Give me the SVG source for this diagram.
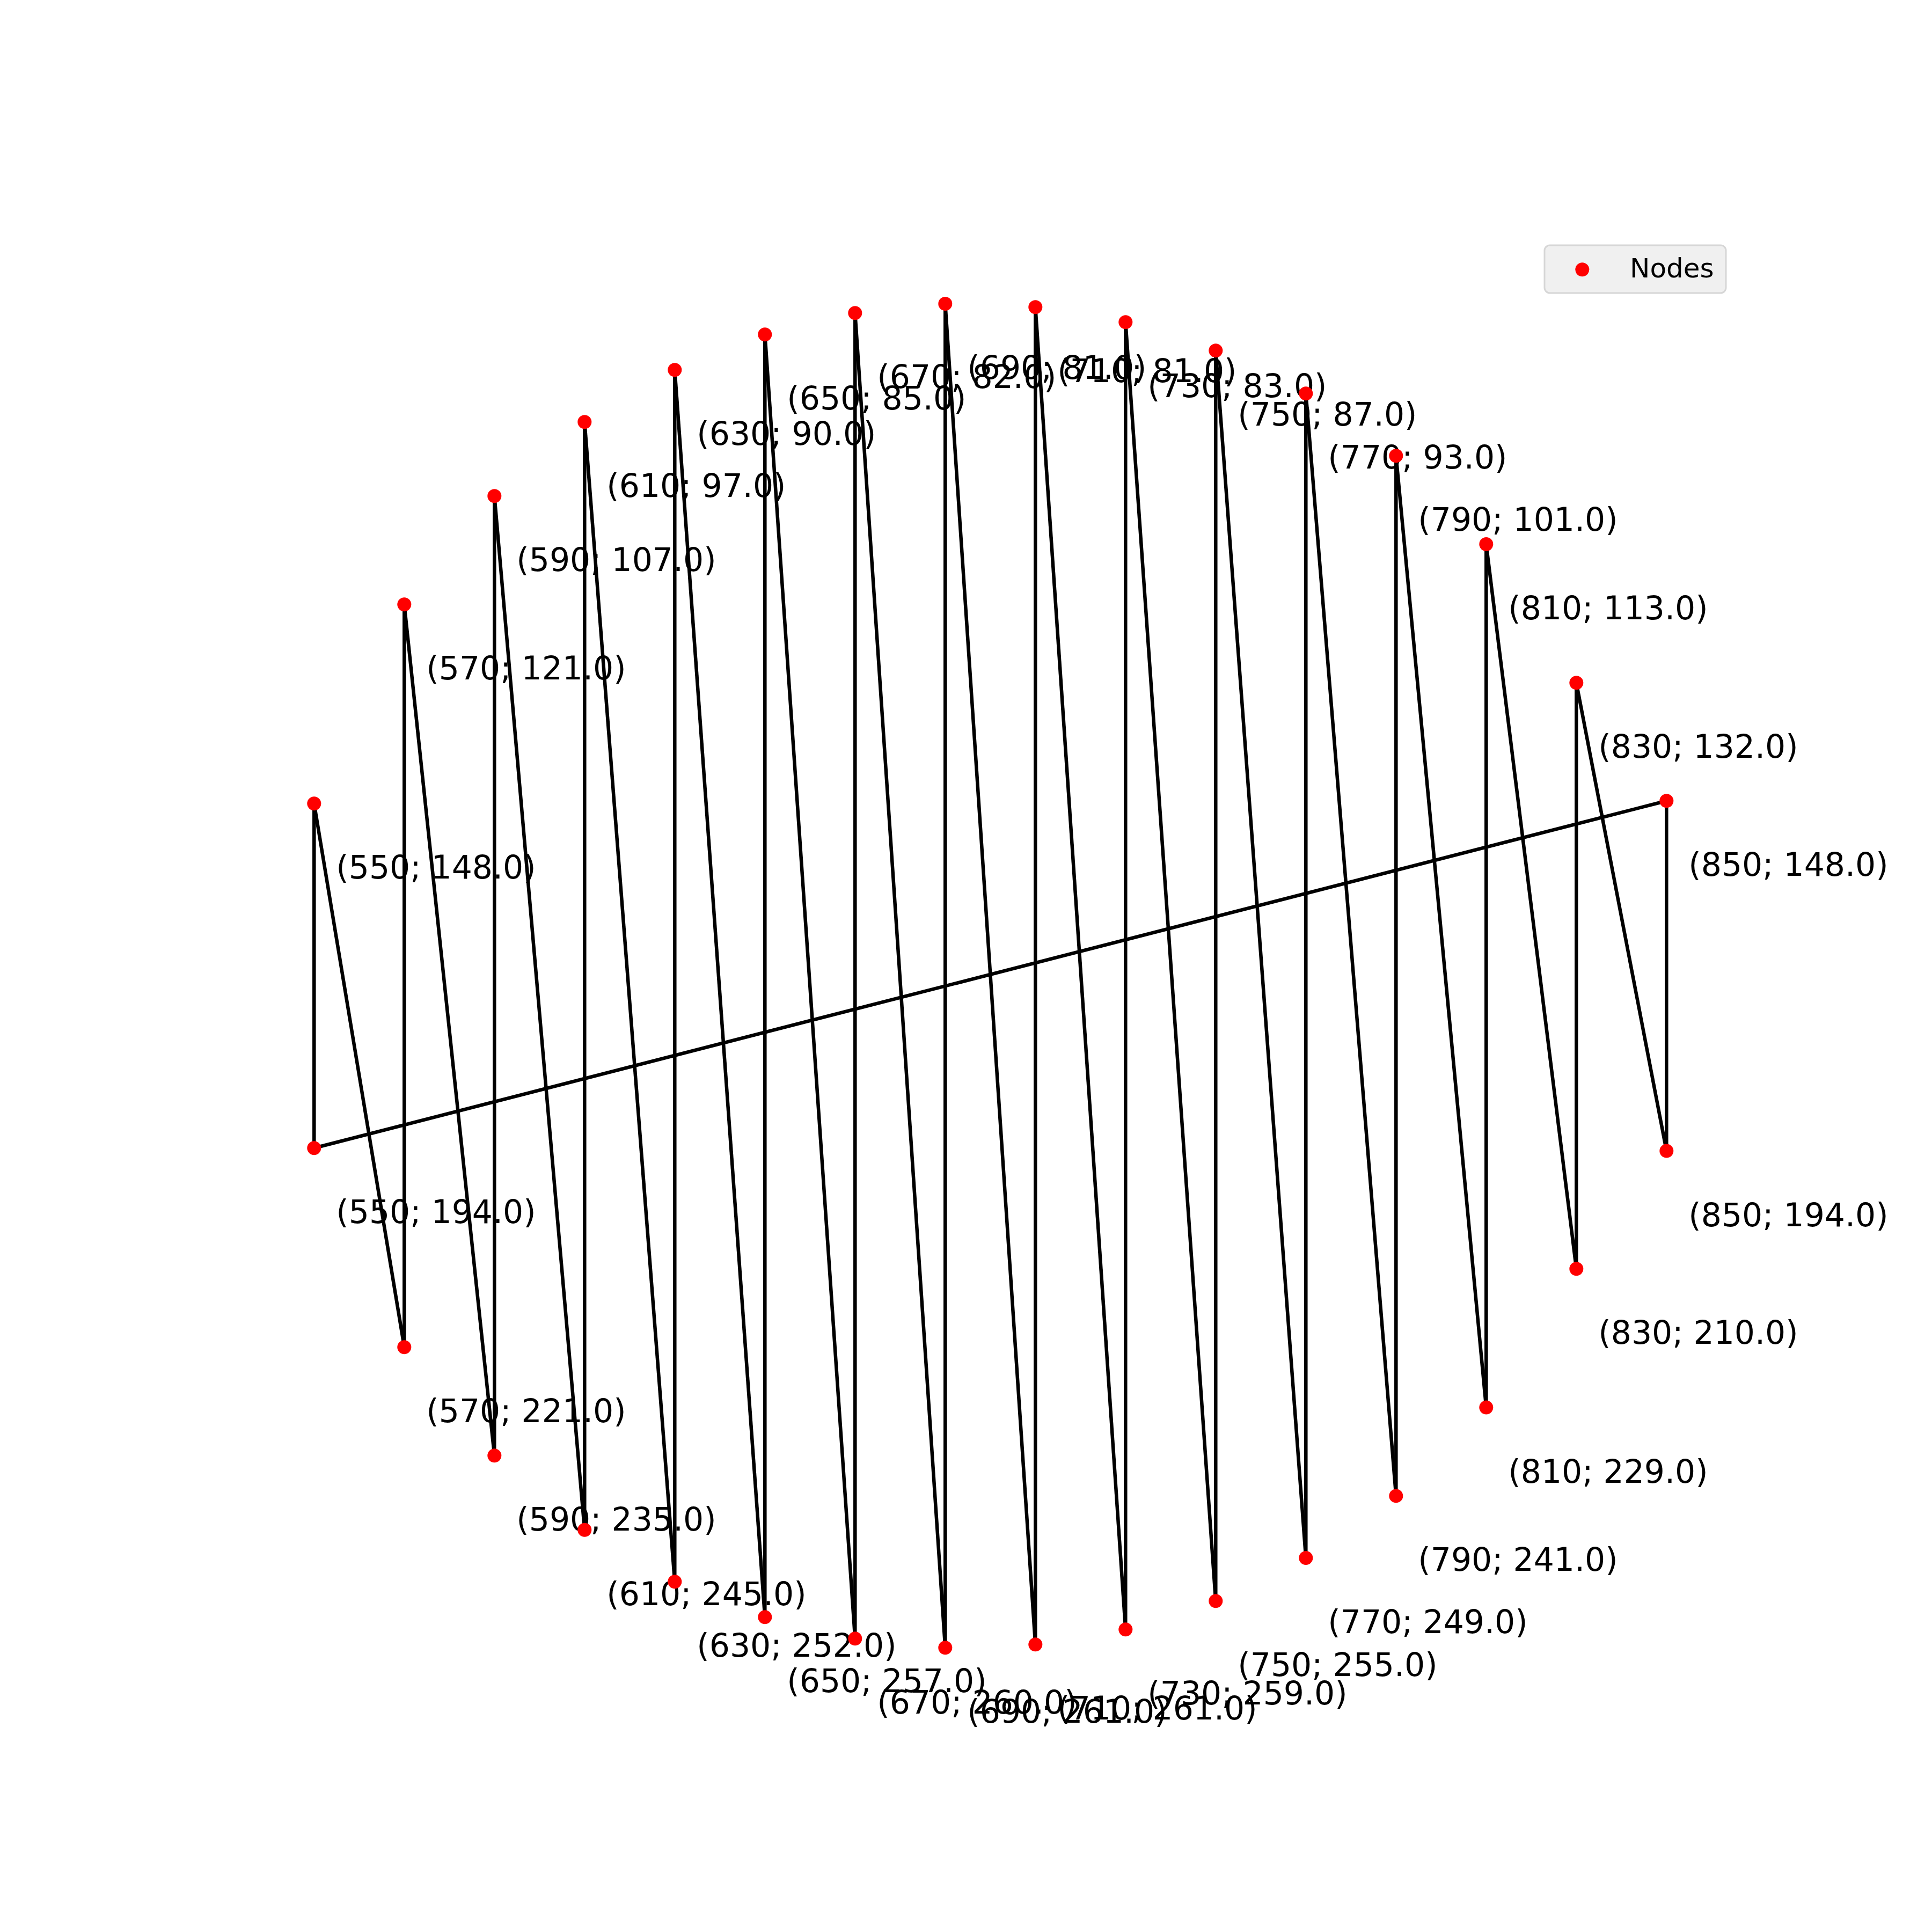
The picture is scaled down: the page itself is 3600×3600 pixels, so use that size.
<svg xmlns="http://www.w3.org/2000/svg" width="3600" height="3600" viewBox="0 0 3600 3600">
<style>
.edge{stroke:#000;stroke-width:6.5;fill:none;stroke-linecap:square}
.node{fill:#ff0000}
.lbl{font-family:"DejaVu Sans","Liberation Sans",sans-serif;font-size:60px;fill:#000}
.leg{font-family:"DejaVu Sans","Liberation Sans",sans-serif;font-size:50px;fill:#000}
</style>
<rect width="3600" height="3600" fill="#ffffff"/>
<g id="connectors">
<line class="edge" x1="585.3" y1="1497.3" x2="585.3" y2="2139.2"/>
<line class="edge" x1="585.3" y1="2139.2" x2="3105.3" y2="1492.3"/>
<line class="edge" x1="3105.3" y1="1492.3" x2="3105.3" y2="2144.6"/>
<line class="edge" x1="3105.3" y1="2144.6" x2="2937.3" y2="1272.3"/>
<line class="edge" x1="2937.3" y1="1272.3" x2="2937.3" y2="2364.2"/>
<line class="edge" x1="2937.3" y1="2364.2" x2="2769.3" y2="1014"/>
<line class="edge" x1="2769.3" y1="1014" x2="2769.3" y2="2622.6"/>
<line class="edge" x1="2769.3" y1="2622.6" x2="2601.3" y2="849.3"/>
<line class="edge" x1="2601.3" y1="849.3" x2="2601.3" y2="2787.4"/>
<line class="edge" x1="2601.3" y1="2787.4" x2="2433.3" y2="733.3"/>
<line class="edge" x1="2433.3" y1="733.3" x2="2433.3" y2="2903"/>
<line class="edge" x1="2433.3" y1="2903" x2="2265.3" y2="653.3"/>
<line class="edge" x1="2265.3" y1="653.3" x2="2265.3" y2="2983.3"/>
<line class="edge" x1="2265.3" y1="2983.3" x2="2097.3" y2="600.3"/>
<line class="edge" x1="2097.3" y1="600.3" x2="2097.3" y2="3036.3"/>
<line class="edge" x1="2097.3" y1="3036.3" x2="1929.3" y2="572.3"/>
<line class="edge" x1="1929.3" y1="572.3" x2="1929.3" y2="3064.3"/>
<line class="edge" x1="1929.3" y1="3064.3" x2="1761.3" y2="566"/>
<line class="edge" x1="1761.3" y1="566" x2="1761.3" y2="3070.3"/>
<line class="edge" x1="1761.3" y1="3070.3" x2="1593.3" y2="583.3"/>
<line class="edge" x1="1593.3" y1="583.3" x2="1593.3" y2="3053.3"/>
<line class="edge" x1="1593.3" y1="3053.3" x2="1425.3" y2="623.3"/>
<line class="edge" x1="1425.3" y1="623.3" x2="1425.3" y2="3013.3"/>
<line class="edge" x1="1425.3" y1="3013.3" x2="1257.3" y2="689.3"/>
<line class="edge" x1="1257.3" y1="689.3" x2="1257.3" y2="2947.3"/>
<line class="edge" x1="1257.3" y1="2947.3" x2="1089.3" y2="786.3"/>
<line class="edge" x1="1089.3" y1="786.3" x2="1089.3" y2="2850.7"/>
<line class="edge" x1="1089.3" y1="2850.7" x2="921.3" y2="924.3"/>
<line class="edge" x1="921.3" y1="924.3" x2="921.3" y2="2712.2"/>
<line class="edge" x1="921.3" y1="2712.2" x2="753.3" y2="1126.3"/>
<line class="edge" x1="753.3" y1="1126.3" x2="753.3" y2="2510.2"/>
<line class="edge" x1="753.3" y1="2510.2" x2="585.3" y2="1497.3"/>
</g>
<g id="n550t"><circle class="node" cx="585.3" cy="1497.3" r="13"/><text class="lbl" x="626.3" y="1637.3">(550; 148.0)</text></g>
<g id="n550b"><circle class="node" cx="585.3" cy="2139.2" r="13"/><text class="lbl" x="626.3" y="2279.2">(550; 194.0)</text></g>
<g id="n570t"><circle class="node" cx="753.3" cy="1126.3" r="13"/><text class="lbl" x="794.3" y="1266.3">(570; 121.0)</text></g>
<g id="n570b"><circle class="node" cx="753.3" cy="2510.2" r="13"/><text class="lbl" x="794.3" y="2650.2">(570; 221.0)</text></g>
<g id="n590t"><circle class="node" cx="921.3" cy="924.3" r="13"/><text class="lbl" x="962.3" y="1064.3">(590; 107.0)</text></g>
<g id="n590b"><circle class="node" cx="921.3" cy="2712.2" r="13"/><text class="lbl" x="962.3" y="2852.2">(590; 235.0)</text></g>
<g id="n610t"><circle class="node" cx="1089.3" cy="786.3" r="13"/><text class="lbl" x="1130.3" y="926.3">(610; 97.0)</text></g>
<g id="n610b"><circle class="node" cx="1089.3" cy="2850.7" r="13"/><text class="lbl" x="1130.3" y="2990.7">(610; 245.0)</text></g>
<g id="n630t"><circle class="node" cx="1257.3" cy="689.3" r="13"/><text class="lbl" x="1298.3" y="829.3">(630; 90.0)</text></g>
<g id="n630b"><circle class="node" cx="1257.3" cy="2947.3" r="13"/><text class="lbl" x="1298.3" y="3087.3">(630; 252.0)</text></g>
<g id="n650t"><circle class="node" cx="1425.3" cy="623.3" r="13"/><text class="lbl" x="1466.3" y="763.3">(650; 85.0)</text></g>
<g id="n650b"><circle class="node" cx="1425.3" cy="3013.3" r="13"/><text class="lbl" x="1466.3" y="3153.3">(650; 257.0)</text></g>
<g id="n670t"><circle class="node" cx="1593.3" cy="583.3" r="13"/><text class="lbl" x="1634.3" y="723.3">(670; 82.0)</text></g>
<g id="n670b"><circle class="node" cx="1593.3" cy="3053.3" r="13"/><text class="lbl" x="1634.3" y="3193.3">(670; 260.0)</text></g>
<g id="n690t"><circle class="node" cx="1761.3" cy="566" r="13"/><text class="lbl" x="1802.3" y="706">(690; 81.0)</text></g>
<g id="n690b"><circle class="node" cx="1761.3" cy="3070.3" r="13"/><text class="lbl" x="1802.3" y="3210.3">(690; 261.0)</text></g>
<g id="n710t"><circle class="node" cx="1929.3" cy="572.3" r="13"/><text class="lbl" x="1970.3" y="712.3">(710; 81.0)</text></g>
<g id="n710b"><circle class="node" cx="1929.3" cy="3064.3" r="13"/><text class="lbl" x="1970.3" y="3204.3">(710; 261.0)</text></g>
<g id="n730t"><circle class="node" cx="2097.3" cy="600.3" r="13"/><text class="lbl" x="2138.3" y="740.3">(730; 83.0)</text></g>
<g id="n730b"><circle class="node" cx="2097.3" cy="3036.3" r="13"/><text class="lbl" x="2138.3" y="3176.3">(730; 259.0)</text></g>
<g id="n750t"><circle class="node" cx="2265.3" cy="653.3" r="13"/><text class="lbl" x="2306.3" y="793.3">(750; 87.0)</text></g>
<g id="n750b"><circle class="node" cx="2265.3" cy="2983.3" r="13"/><text class="lbl" x="2306.3" y="3123.3">(750; 255.0)</text></g>
<g id="n770t"><circle class="node" cx="2433.3" cy="733.3" r="13"/><text class="lbl" x="2474.3" y="873.3">(770; 93.0)</text></g>
<g id="n770b"><circle class="node" cx="2433.3" cy="2903" r="13"/><text class="lbl" x="2474.3" y="3043">(770; 249.0)</text></g>
<g id="n790t"><circle class="node" cx="2601.3" cy="849.3" r="13"/><text class="lbl" x="2642.3" y="989.3">(790; 101.0)</text></g>
<g id="n790b"><circle class="node" cx="2601.3" cy="2787.4" r="13"/><text class="lbl" x="2642.3" y="2927.4">(790; 241.0)</text></g>
<g id="n810t"><circle class="node" cx="2769.3" cy="1014" r="13"/><text class="lbl" x="2810.3" y="1154">(810; 113.0)</text></g>
<g id="n810b"><circle class="node" cx="2769.3" cy="2622.6" r="13"/><text class="lbl" x="2810.3" y="2762.6">(810; 229.0)</text></g>
<g id="n830t"><circle class="node" cx="2937.3" cy="1272.3" r="13"/><text class="lbl" x="2978.3" y="1412.3">(830; 132.0)</text></g>
<g id="n830b"><circle class="node" cx="2937.3" cy="2364.2" r="13"/><text class="lbl" x="2978.3" y="2504.2">(830; 210.0)</text></g>
<g id="n850t"><circle class="node" cx="3105.3" cy="1492.3" r="13"/><text class="lbl" x="3146.3" y="1632.3">(850; 148.0)</text></g>
<g id="n850b"><circle class="node" cx="3105.3" cy="2144.6" r="13"/><text class="lbl" x="3146.3" y="2284.6">(850; 194.0)</text></g>
<g id="legend">
<rect x="2878" y="457" width="338" height="89" rx="10" ry="10" fill="#f0f0f0" stroke="#d6d6d6" stroke-width="3"/>
<circle class="node" cx="2948.3" cy="502.3" r="13"/>
<text class="leg" x="3037" y="516.7">Nodes</text>
</g>
</svg>
